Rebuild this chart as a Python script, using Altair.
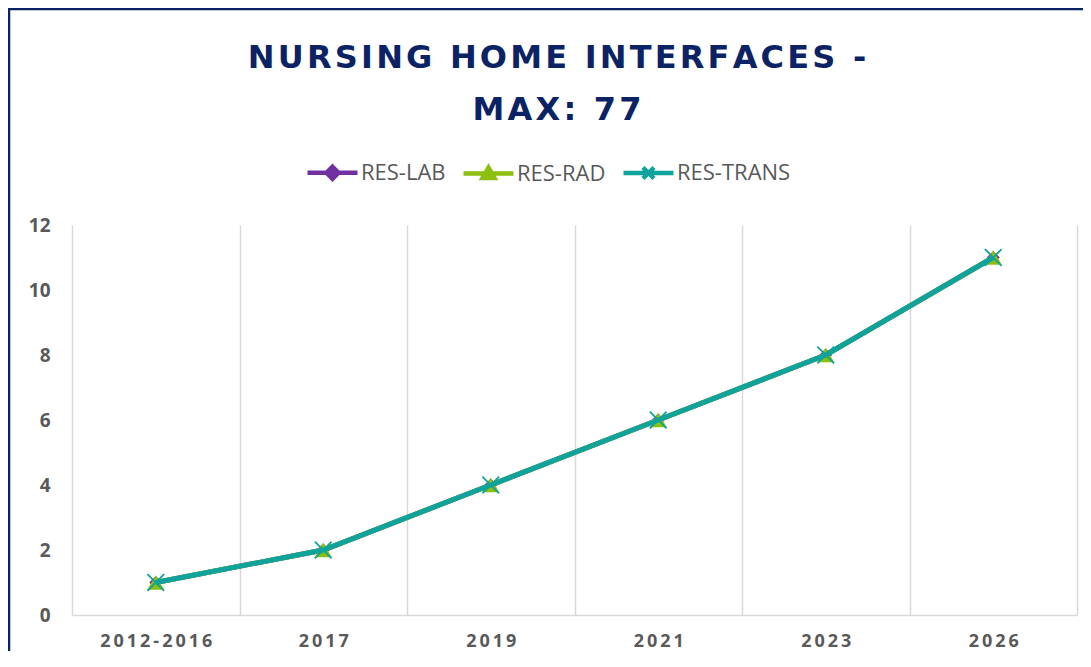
import altair as alt
import pandas as pd

categories = ["2012-2016", "2017", "2019", "2021", "2023", "2026"]
series_names = ["RES-LAB", "RES-RAD", "RES-TRANS"]
res_lab = [1, 2, 4, 6, 8, 11]
res_rad = [1, 2, 4, 6, 8, 11]
res_trans = [1, 2, 4, 6, 8, 11]
y_ticks = [0, 2, 4, 6, 8, 10, 12]
title_lines = ["NURSING HOME INTERFACES -", "MAX: 77"]

colors = ["#70309F", "#8CBF0F", "#0FA39B"]
marker_shapes = ["diamond", "triangle-up", "M-1,-1L1,1M1,-1L-1,1"]
legend_shapes = [
    "M-1,0L1,0M0,-0.24L0.24,0L0,0.24L-0.24,0Z",
    "M-1,0L1,0M0,-0.24L0.24,0.18L-0.24,0.18Z",
    "M-1,0L1,0M-0.22,-0.22L0.22,0.22M0.22,-0.22L-0.22,0.22",
]

rows = []
for name, vals in zip(series_names, [res_lab, res_rad, res_trans]):
    for c, v in zip(categories, vals):
        rows.append({"period": c, "series": name, "value": v})
df = pd.DataFrame(rows)

TEXT = "#595959"
GRID = "#D9D9D9"
NAVY = "#0B2365"
thin = "\u2009"
hair = "\u200a"
spaced_title = [hair.join(list(t)) for t in title_lines]

x_enc = alt.X(
    "period:N",
    sort=categories,
    scale=alt.Scale(domain=categories, paddingInner=0, paddingOuter=0),
    axis=alt.Axis(
        title=None,
        grid=True,
        gridColor=GRID,
        gridWidth=1.5,
        tickBand="extent",
        ticks=False,
        domain=True,
        domainColor=GRID,
        domainWidth=1.5,
        labelAngle=0,
        labelFont="Open Sans",
        labelFontWeight="bold",
        labelFontSize=18,
        labelColor=TEXT,
        labelPadding=17,
        labelExpr="join(split(datum.label, ''), '" + thin + "')",
    ),
)
y_enc = alt.Y(
    "value:Q",
    scale=alt.Scale(domain=[0, 12], nice=False),
    axis=alt.Axis(
        title=None,
        values=y_ticks,
        grid=False,
        domain=False,
        ticks=False,
        labelFont="Open Sans",
        labelFontWeight="bold",
        labelFontSize=19,
        labelColor=TEXT,
        labelPadding=22,
    ),
)

base = alt.Chart(df)

layers = []
for i, name in enumerate(series_names):
    sub = base.transform_filter(alt.datum.series == name)
    line = sub.mark_line(strokeWidth=5, color=colors[i]).encode(x=x_enc, y=y_enc)
    if i == 2:
        pts = sub.mark_point(
            shape=marker_shapes[i], size=280, filled=False, stroke=colors[i], strokeWidth=1.8, opacity=1
        ).encode(x=x_enc, y=y_enc)
    else:
        pts = sub.mark_point(
            shape=marker_shapes[i], size=290 if i == 1 else 170, filled=True, fill=colors[i], opacity=1
        ).encode(x=x_enc, y=y_enc)
    layers += [line, pts]

legend_layer = (
    base.transform_filter(alt.datum.value < 0)
    .mark_point(filled=True, opacity=1, size=2500)
    .encode(
        x=x_enc,
        y=y_enc,
        shape=alt.Shape(
            "series:N",
            scale=alt.Scale(domain=series_names, range=legend_shapes),
            legend=alt.Legend(
                title=None,
                orient="none",
                direction="horizontal",
                legendX=233,
                legendY=-80,
                symbolSize=2500,
                symbolStrokeWidth=4.5,
                labelFont="Open Sans",
                labelFontSize=22,
                labelColor=TEXT,
                labelOffset=1,
                columnPadding=8,
            ),
        ),
        fill=alt.Fill("series:N", scale=alt.Scale(domain=series_names, range=colors), legend=None),
        stroke=alt.Stroke("series:N", scale=alt.Scale(domain=series_names, range=colors), legend=None),
    )
)

title = alt.Chart(pd.DataFrame({"k": [0]})).mark_text(
    text=spaced_title,
    font="DejaVu Sans",
    fontSize=32,
    fontWeight="bold",
    color=NAVY,
    align="center",
    baseline="alphabetic",
    lineHeight=52,
).encode(x=alt.value(485), y=alt.value(-157))

border = alt.Chart(pd.DataFrame({"k": [0]})).mark_rect(
    filled=False, stroke=NAVY, strokeWidth=2.5
).encode(
    x=alt.value(-63), x2=alt.value(1040), y=alt.value(-216), y2=alt.value(460)
)

chart = (
    alt.layer(border, title, *layers, legend_layer)
    .properties(
        width=1005,
        height=390,
        autosize=alt.AutoSizeParams(type="none"),
        padding={"left": 64, "top": 217, "right": 6, "bottom": 36},
    )
    .configure_view(stroke=None)
)

chart.save("out.html", embed_options={"renderer": "svg", "actions": False})
